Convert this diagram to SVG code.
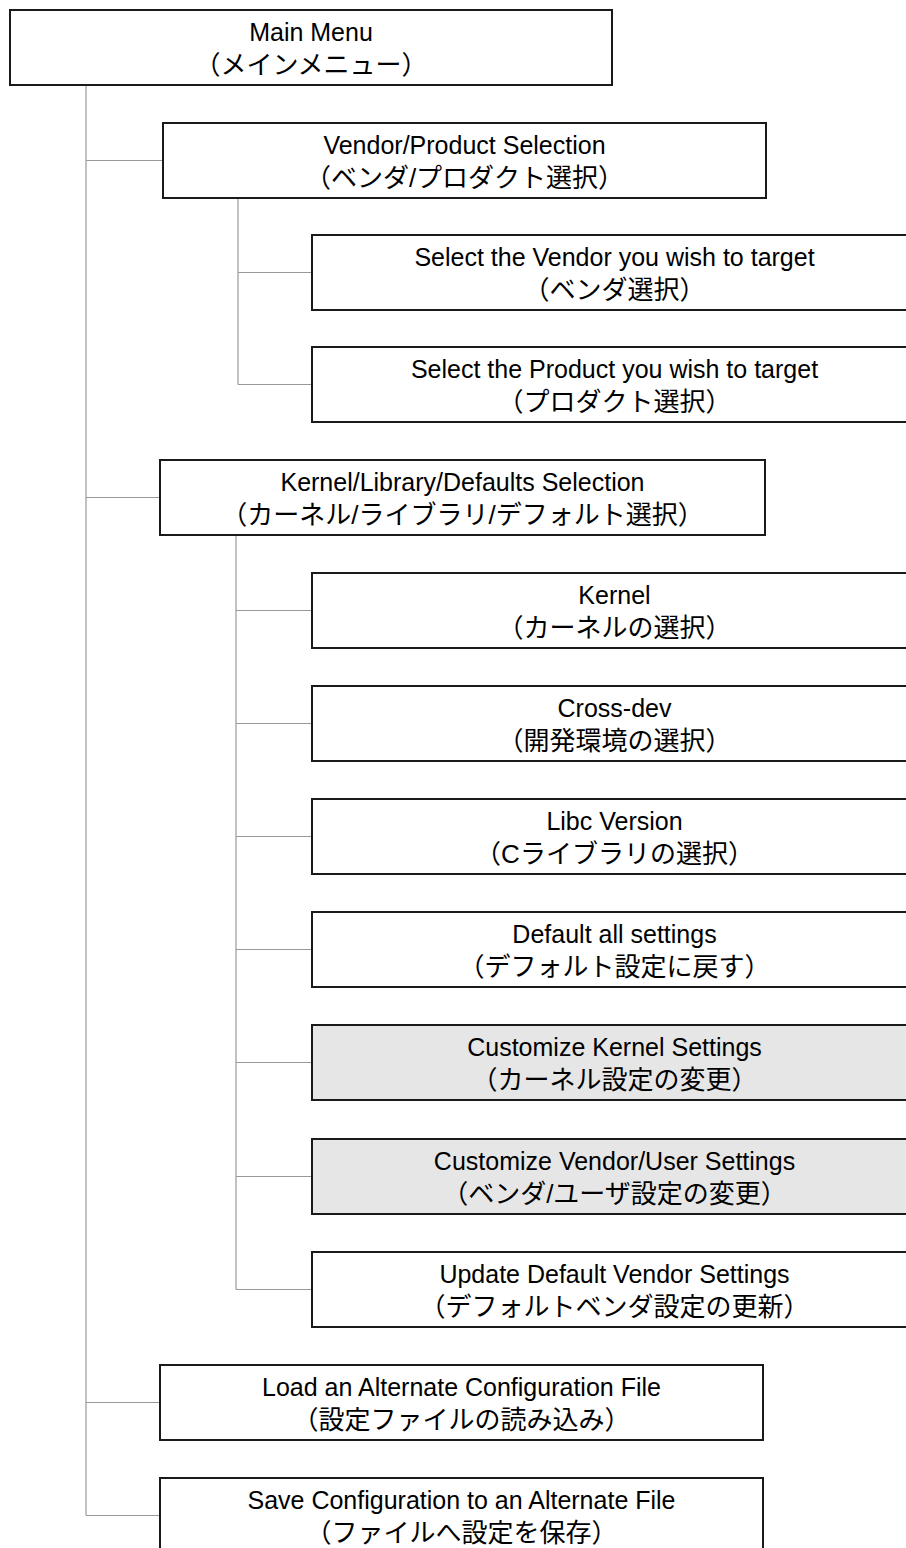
<svg xmlns="http://www.w3.org/2000/svg" width="906" height="1548" viewBox="0 0 906 1548">
<style>
.box{fill:#ffffff;stroke:#1a1a1a;stroke-width:2}
.grey{fill:#e6e6e6}
.conn{stroke:#999999;stroke-width:1.2;fill:none}
text{font-family:"Liberation Sans","Noto Sans CJK JP",sans-serif;font-size:25px;fill:#000;text-anchor:middle}
.jp{text-spacing-trim:space-all;font-size:26px}
</style>
<rect width="906" height="1548" fill="#ffffff"/>
<g id="connectors">
<path class="conn" d="M86 85V1515.5M86 160.5H163M86 497.5H160M86 1402.5H160M86 1515.5H160"/>
<path class="conn" d="M238 198V384.5M238 272.5H312M238 384.5H312"/>
<path class="conn" d="M236 535V1289.5M236 610.5H312M236 723.5H312M236 836.5H312M236 949.5H312M236 1062.5H312M236 1176.5H312M236 1289.5H312"/>
</g>
<g id="main-menu"><rect class="box" x="10" y="10" width="602" height="75"/><text x="311" y="41">Main Menu</text><text class="jp" x="311" y="74">（メインメニュー）</text></g>
<g id="vendor-product"><rect class="box" x="163" y="123" width="603" height="75"/><text x="464.5" y="154">Vendor/Product Selection</text><text class="jp" x="464.5" y="187">（ベンダ/プロダクト選択）</text></g>
<g id="select-vendor"><rect class="box" x="312" y="235" width="605" height="75"/><text x="614.5" y="266">Select the Vendor you wish to target</text><text class="jp" x="614.5" y="299">（ベンダ選択）</text></g>
<g id="select-product"><rect class="box" x="312" y="347" width="605" height="75"/><text x="614.5" y="378">Select the Product you wish to target</text><text class="jp" x="614.5" y="411">（プロダクト選択）</text></g>
<g id="kernel-library"><rect class="box" x="160" y="460" width="605" height="75"/><text x="462.5" y="491">Kernel/Library/Defaults Selection</text><text class="jp" x="462.5" y="524">（カーネル/ライブラリ/デフォルト選択）</text></g>
<g id="kernel"><rect class="box" x="312" y="573" width="605" height="75"/><text x="614.5" y="604">Kernel</text><text class="jp" x="614.5" y="637">（カーネルの選択）</text></g>
<g id="cross-dev"><rect class="box" x="312" y="686" width="605" height="75"/><text x="614.5" y="717">Cross-dev</text><text class="jp" x="614.5" y="750">（開発環境の選択）</text></g>
<g id="libc"><rect class="box" x="312" y="799" width="605" height="75"/><text x="614.5" y="830">Libc Version</text><text class="jp" x="614.5" y="863">（Cライブラリの選択）</text></g>
<g id="default-all"><rect class="box" x="312" y="912" width="605" height="75"/><text x="614.5" y="943">Default all settings</text><text class="jp" x="614.5" y="976">（デフォルト設定に戻す）</text></g>
<g id="customize-kernel"><rect class="box grey" x="312" y="1025" width="605" height="75"/><text x="614.5" y="1056">Customize Kernel Settings</text><text class="jp" x="614.5" y="1089">（カーネル設定の変更）</text></g>
<g id="customize-vendor"><rect class="box grey" x="312" y="1139" width="605" height="75"/><text x="614.5" y="1170">Customize Vendor/User Settings</text><text class="jp" x="614.5" y="1203">（ベンダ/ユーザ設定の変更）</text></g>
<g id="update-default"><rect class="box" x="312" y="1252" width="605" height="75"/><text x="614.5" y="1283">Update Default Vendor Settings</text><text class="jp" x="614.5" y="1316">（デフォルトベンダ設定の更新）</text></g>
<g id="load-config"><rect class="box" x="160" y="1365" width="603" height="75"/><text x="461.5" y="1396">Load an Alternate Configuration File</text><text class="jp" x="461.5" y="1429">（設定ファイルの読み込み）</text></g>
<g id="save-config"><rect class="box" x="160" y="1478" width="603" height="75"/><text x="461.5" y="1509">Save Configuration to an Alternate File</text><text class="jp" x="461.5" y="1542">（ファイルへ設定を保存）</text></g>
</svg>
